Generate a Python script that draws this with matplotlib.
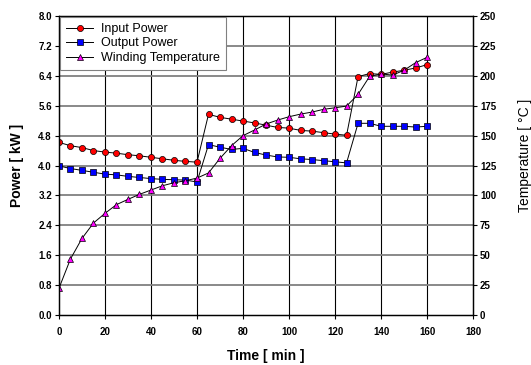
import numpy as np
import matplotlib
matplotlib.use("Agg")
import matplotlib.pyplot as plt

plt.rcParams['font.family'] = ['Liberation Sans', 'DejaVu Sans']

# tiempo de medicion (min)
time_min = list(range(0, 165, 5))

input_kw = [4.62, 4.53, 4.48, 4.40, 4.36, 4.33, 4.29, 4.26, 4.22, 4.18, 4.14, 4.11, 4.09,
            5.37, 5.29, 5.24, 5.19, 5.14, 5.08, 5.02, 5.00, 4.94, 4.92, 4.88, 4.84, 4.81,
            6.38, 6.46, 6.44, 6.50, 6.55, 6.61, 6.70]

output_kw = [3.99, 3.92, 3.87, 3.82, 3.77, 3.75, 3.71, 3.68, 3.65, 3.63, 3.62, 3.61, 3.56,
             4.56, 4.49, 4.43, 4.46, 4.35, 4.28, 4.23, 4.22, 4.18, 4.16, 4.13, 4.10, 4.07,
             5.13, 5.13, 5.05, 5.05, 5.05, 5.03, 5.05]

temp_c = [22.3, 46.8, 64.0, 76.9, 85.0, 92.3, 96.7, 100.9, 104.5, 108.1, 110.6, 112.3, 114.5,
          118.8, 131.0, 141.6, 150.0, 154.7, 159.7, 163.0, 165.8, 168.0, 169.7, 172.0, 173.3, 174.7,
          184.5, 199.5, 201.6, 200.6, 204.7, 211.0, 215.5]

x_ticks = list(range(0, 200, 20))
kw_ticks = [0.0, 0.8, 1.6, 2.4, 3.2, 4.0, 4.8, 5.6, 6.4, 7.2, 8.0]
temp_ticks = list(range(0, 275, 25))

fig = plt.figure(figsize=(5.31, 3.65), dpi=100)
ax = fig.add_axes([0.111, 0.137, 0.780, 0.819])
ax2 = ax.twinx()

# rejilla
for t in x_ticks[1:-1]:
    ax.axvline(t, color='black', lw=0.8, zorder=0)
for k in kw_ticks[1:-1]:
    ax.axhline(k, color='#808080', lw=1.3, zorder=0)

l1, = ax.plot(time_min, input_kw, '-o', color='black', lw=0.7, ms=4.4,
              mfc='#ff0000', mec='black', mew=0.5, label='Input Power')
l2, = ax.plot(time_min, output_kw, '-s', color='black', lw=0.7, ms=4.2,
              mfc='#0000ff', mec='black', mew=0.5, label='Output Power')
l3, = ax2.plot(time_min, temp_c, '-^', color='black', lw=0.7, ms=4.6,
               mfc='#ff00ff', mec='black', mew=0.5, label='Winding Temperature')

ax.set_xlim(0, 180)
ax.set_ylim(0, 8.0)
ax2.set_ylim(0, 250)
ax.set_xticks(x_ticks)
ax.set_yticks(kw_ticks)
ax.set_yticklabels([f'{v:.1f}' for v in kw_ticks])
ax2.set_yticks(temp_ticks)

for a in (ax, ax2):
    a.tick_params(direction='out', length=3, width=0.8, labelsize=7, pad=2)
    for lab in a.get_xticklabels() + a.get_yticklabels():
        lab.set_fontweight('bold')
    for s in a.spines.values():
        s.set_linewidth(0.9)
        s.set_color('black')
ax.tick_params(axis='x', pad=6)

ax.set_xlabel('Time [ min ]', fontsize=10, fontweight='bold', labelpad=8)
ax.set_ylabel('Power [ kW ]', fontsize=10, fontweight='bold', labelpad=10)
ax2.set_ylabel('Temperature [ \u00b0C ]', fontsize=10)
ax2.yaxis.set_label_coords(1.108, 0.535)

leg = ax2.legend(handles=[l1, l2, l3], loc='upper left', borderaxespad=0.05,
                 fontsize=9, fancybox=False, framealpha=1, edgecolor='#808080',
                 handlelength=2.2, handletextpad=0.6, borderpad=0.5, labelspacing=0.2)
leg.get_frame().set_linewidth(0.8)

fig.savefig('out.png', dpi=100)
